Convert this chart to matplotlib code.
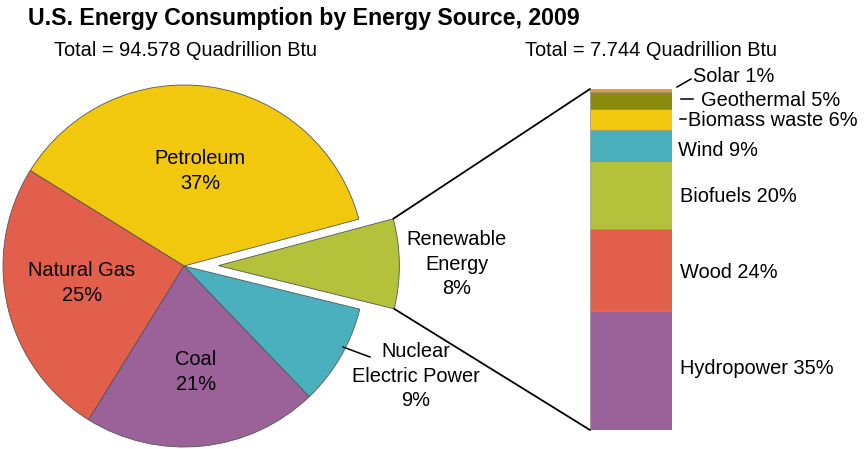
import matplotlib.pyplot as plt
from matplotlib.patches import ConnectionPatch
import numpy as np

plt.rcParams['font.family'] = ['Liberation Sans', 'DejaVu Sans']

# pie data (percent of total)
pie_labels = ['Petroleum', 'Natural Gas', 'Coal', 'Nuclear', 'Renewable']
pie_values = [37, 25, 21, 9, 8]
pie_colors = ['#F2C80F', '#E25F4C', '#9B6199', '#4BB0BE', '#B3C23A']

# renewable breakdown, bottom to top
bar_labels = ['Hydropower', 'Wood', 'Biofuels', 'Wind', 'Biomass waste', 'Geothermal', 'Solar']
bar_values = [35, 24, 20, 9, 6, 5, 1]
bar_colors = ['#9B6199', '#E25F4C', '#B3C23A', '#4BB0BE', '#F2C80F', '#8A8A0C', '#E89A3A']

W, H = 864, 449
fig = plt.figure(figsize=(W / 100, H / 100), dpi=100)
ax = fig.add_axes([0, 0, 1, 1])

def py(y):  # pixel row -> data y
    return H - y

R = 181
# pie explode offsets are absolute when radius != 1
explode = [0, 0, 0, 0, 0.19 * R]
wedges, _ = ax.pie(pie_values, colors=pie_colors, explode=explode,
                   startangle=15, counterclock=True, center=(184, py(266)),
                   radius=R, frame=True,
                   wedgeprops=dict(edgecolor='#555555', linewidth=0.6))
ax.set_xlim(0, W)
ax.set_ylim(0, H)
ax.axis('off')

# stacked bar
bx = fig.add_axes([590 / W, (H - 430) / H, 82 / W, 341 / H])
bottom = 0
for v, c in zip(bar_values, bar_colors):
    bx.bar(0, v, bottom=bottom, width=1, color=c, edgecolor='#888888', linewidth=0.4)
    bottom += v
bx.set_xlim(-0.5, 0.5)
bx.set_ylim(0, 100)
bx.axis('off')

# connector lines from renewable wedge to bar
rw = wedges[4]
cx, cy = rw.center
for th, yb in [(rw.theta2, 100), (rw.theta1, 0)]:
    xa = cx + rw.r * np.cos(np.radians(th))
    ya = cy + rw.r * np.sin(np.radians(th))
    con = ConnectionPatch(xyA=(xa, ya), coordsA=ax.transData,
                          xyB=(-0.5, yb), coordsB=bx.transData,
                          color='black', linewidth=1.3)
    fig.add_artist(con)

fs = 14.4
ax.text(28, py(18), 'U.S. Energy Consumption by Energy Source, 2009',
        fontsize=16.7, fontweight='bold', va='center', ha='left')
ax.text(185, py(50), 'Total = 94.578 Quadrillion Btu', fontsize=fs, ha='center', va='center')
ax.text(651, py(50), 'Total = 7.744 Quadrillion Btu', fontsize=fs, ha='center', va='center')

ax.text(200, py(171), 'Petroleum\n37%', fontsize=fs, ha='center', va='center', linespacing=1.45)
ax.text(82, py(283), 'Natural Gas\n25%', fontsize=fs, ha='center', va='center', linespacing=1.45)
ax.text(196, py(372), 'Coal\n21%', fontsize=fs, ha='center', va='center', linespacing=1.45)
ax.text(457, py(264), 'Renewable\nEnergy\n8%', fontsize=fs, ha='center', va='center', linespacing=1.35)
ax.text(416, py(376), 'Nuclear\nElectric Power\n9%', fontsize=fs, ha='center', va='center', linespacing=1.35)
ax.plot([343, 370], [py(347), py(357)], color='black', linewidth=1.1)

# bar labels
lab_pos = {'Hydropower': (680, 369), 'Wood': (680, 272), 'Biofuels': (680, 196),
           'Wind': (678, 150), 'Biomass waste': (688, 121), 'Geothermal': (701, 101),
           'Solar': (693, 77)}
for name, v in zip(bar_labels, bar_values):
    x, y = lab_pos[name]
    ax.text(x, py(y), f'{name} {v}%', fontsize=fs, ha='left', va='center')
ax.plot([677, 691], [py(87), py(79)], color='black', linewidth=1.1)
ax.plot([681, 693], [py(99), py(99)], color='black', linewidth=1.1)
ax.plot([680, 686], [py(119), py(119)], color='black', linewidth=1.1)

fig.savefig('out.png', dpi=100)
